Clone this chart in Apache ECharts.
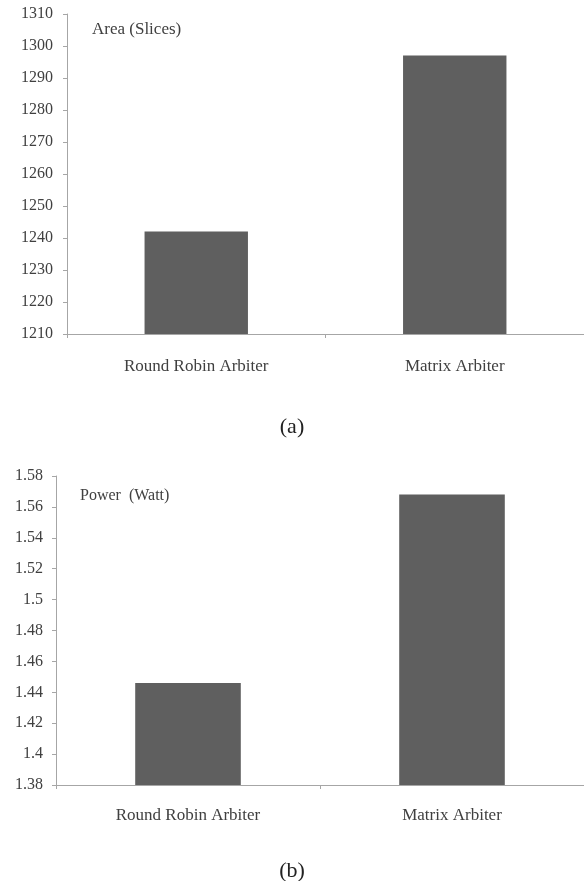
<!DOCTYPE html>
<html>
<head>
<meta charset="utf-8">
<script src="https://cdn.jsdelivr.net/npm/echarts@6/dist/echarts.min.js"></script>
<style>
    html, body { margin: 0; padding: 0; background: #fff; }
    #chart { width: 584px; height: 881px; }
</style>
</head>
<body>
<div id="chart"></div>
<script>
var categories = ['Round Robin Arbiter', 'Matrix Arbiter'];
var areaValues = [1242, 1297];
var powerValues = [1.446, 1.568];

var serif = '"Liberation Serif", "DejaVu Serif", serif';
var axisGray = '#a6a6a6';
var textGray = '#404040';
var barGray = '#5f5f5f';

function valueAxis(gridIndex, min, max, interval, decimals, margin) {
    return {
        type: 'value',
        gridIndex: gridIndex,
        min: min,
        max: max,
        interval: interval,
        axisLine: { show: true, lineStyle: { color: axisGray } },
        axisTick: { show: true, length: 4, lineStyle: { color: axisGray } },
        splitLine: { show: false },
        axisLabel: {
            color: textGray,
            fontFamily: serif,
            fontSize: 16,
            margin: margin,
            formatter: function (v) {
                return decimals ? String(parseFloat(v.toFixed(decimals))) : String(v);
            }
        }
    };
}

function categoryAxis(gridIndex, margin) {
    return {
        type: 'category',
        gridIndex: gridIndex,
        data: categories,
        axisLine: { lineStyle: { color: axisGray } },
        axisTick: { show: true, length: 4, lineStyle: { color: axisGray } },
        axisLabel: { color: textGray, fontFamily: serif, fontSize: 17, margin: margin }
    };
}

var chart = echarts.init(document.getElementById('chart'));
chart.setOption({
    backgroundColor: '#ffffff',
    animation: false,
    title: [
        { text: 'Area (Slices)', left: 87, top: 16,
          textStyle: { fontFamily: serif, fontSize: 17, fontWeight: 'normal', color: textGray } },
        { text: '(a)', left: 'center', top: 411,
          textStyle: { fontFamily: serif, fontSize: 22, fontWeight: 'normal', color: '#222' } },
        { text: 'Power  (Watt)', left: 75, top: 483,
          textStyle: { fontFamily: serif, fontSize: 16, fontWeight: 'normal', color: textGray } },
        { text: '(b)', left: 'center', top: 855,
          textStyle: { fontFamily: serif, fontSize: 22, fontWeight: 'normal', color: '#222' } }
    ],
    grid: [
        { left: 67, top: 14, width: 520, height: 320 },
        { left: 56, top: 476, width: 532, height: 309 }
    ],
    xAxis: [categoryAxis(0, 24), categoryAxis(1, 22)],
    yAxis: [
        valueAxis(0, 1210, 1310, 10, 0, 14),
        valueAxis(1, 1.38, 1.58, 0.02, 2, 13)
    ],
    series: [
        { type: 'bar', xAxisIndex: 0, yAxisIndex: 0, data: areaValues,
          barWidth: '40%', itemStyle: { color: barGray } },
        { type: 'bar', xAxisIndex: 1, yAxisIndex: 1, data: powerValues,
          barWidth: '40%', itemStyle: { color: barGray } }
    ]
});
</script>
</body>
</html>
